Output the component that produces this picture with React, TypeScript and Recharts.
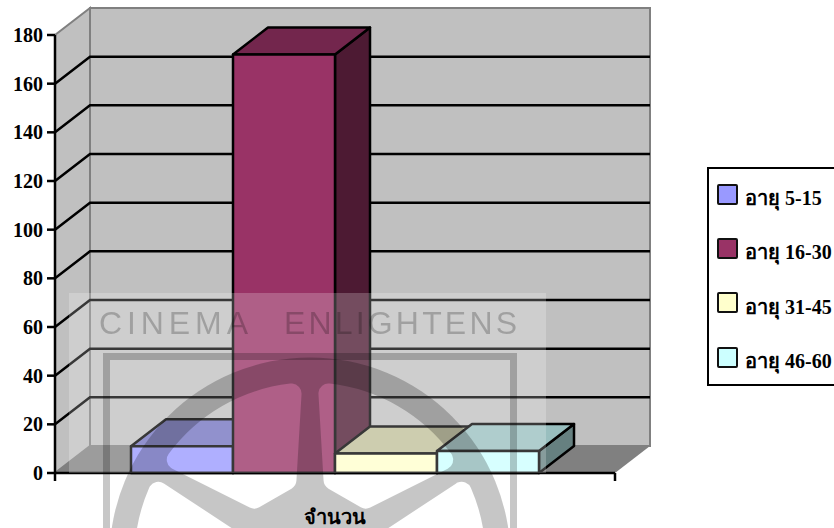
import React from 'react';
import { BarChart, Bar, XAxis, YAxis, CartesianGrid, Legend, usePlotArea } from 'recharts';

const categories = ['จำนวน'];
const seriesNames = ['อายุ 5-15', 'อายุ 16-30', 'อายุ 31-45', 'อายุ 46-60'];
const seriesValues = [[11], [172], [8], [9]];
const seriesColors = ['#9999FF', '#993366', '#FFFFCC', '#CCFFFF'];
const seriesTops = ['#7373BF', '#73264D', '#BFBF99', '#99BFBF'];
const seriesSides = ['#4D4D80', '#4D1A33', '#808066', '#668080'];
const yTicks = [0, 20, 40, 60, 80, 100, 120, 140, 160, 180];
const gridValues = [20, 40, 60, 80, 100, 120, 140, 160];

const data = categories.map((name, i) => {
  const row: Record<string, string | number> = { name };
  seriesNames.forEach((s, j) => {
    row[s] = seriesValues[j][i];
  });
  return row;
});

const FONT = '"Liberation Serif", "Times New Roman", serif';
const DX = 35;
const DY = 27;
const LINE = 2.5;

// back wall, side wall and floor of the 3D box
const Walls = () => {
  const plot = usePlotArea();
  if (!plot) return null;
  const { x, y, width, height } = plot;
  const b = y + height;
  const r = x + width;
  return (
    <g>
      <rect x={x + DX} y={y - DY} width={width} height={height} fill="#C0C0C0" stroke="#808080" strokeWidth={2} />
      <polygon
        points={`${x},${b} ${x},${y} ${x + DX},${y - DY} ${x + DX},${b - DY}`}
        fill="#C0C0C0"
        stroke="#808080"
        strokeWidth={2}
      />
      <polygon points={`${x},${b} ${r},${b} ${r + DX},${b - DY} ${x + DX},${b - DY}`} fill="#808080" />
      <line x1={x} y1={b} x2={x} y2={b + 8} stroke="#000" strokeWidth={LINE} />
      <line x1={r} y1={b} x2={r} y2={b + 8} stroke="#000" strokeWidth={LINE} />
    </g>
  );
};

const Bar3D = (props: any) => {
  const { x, y, width, height, top, side, fill } = props;
  const r = x + width;
  const b = y + height;
  return (
    <g stroke="#000" strokeWidth={LINE} strokeLinejoin="round">
      <polygon points={`${r},${y} ${r + DX},${y - DY} ${r + DX},${b - DY} ${r},${b}`} fill={side} />
      <polygon points={`${x},${y} ${x + DX},${y - DY} ${r + DX},${y - DY} ${r},${y}`} fill={top} />
      <rect x={x} y={y} width={width} height={height} fill={fill} />
    </g>
  );
};

const GridLine = (props: any) => {
  const { x1, x2, y1 } = props;
  return (
    <polyline
      points={`${x1},${y1} ${x1 + DX},${y1 - DY} ${x2 + DX},${y1 - DY}`}
      fill="none"
      stroke="#000"
      strokeWidth={LINE}
    />
  );
};

const LegendBox = ({ payload }: any) => (
  <div style={{ width: 135, height: 215, border: '2px solid #000', position: 'relative', fontFamily: FONT }}>
    {(payload || []).map((p: any, i: number) => (
      <div key={p.value} style={{ position: 'absolute', left: 8, top: 14 + i * 54.4, display: 'flex', alignItems: 'center' }}>
        <div style={{ width: 17, height: 17, border: '2.5px solid #111', borderRadius: 2, background: p.color }} />
        <span style={{ marginLeft: 7, position: 'relative', top: 4, fontSize: 20, fontWeight: 'bold', lineHeight: '22px', whiteSpace: 'nowrap', color: '#000' }}>
          {p.value}
        </span>
      </div>
    ))}
  </div>
);

// the faint film reel logo stamped over the picture
const Watermark = () => {
  const cx = 310;
  const cy = 558;
  const polar = (r: number, deg: number) => {
    const t = (deg * Math.PI) / 180;
    return `${cx + r * Math.cos(t)},${cy - r * Math.sin(t)}`;
  };
  const wedges = [30, 90, 150, 210, 270, 330].map((a) => {
    return `M${polar(81.5, a + 16.8)} L${polar(165.5, a + 6.4)} A165.5,165.5 0 0 0 ${polar(165.5, a + 53.6)} L${polar(81.5, a + 43.2)} Z`;
  });
  return (
    <svg width={834} height={528} style={{ position: 'absolute', left: 0, top: 0, pointerEvents: 'none' }}>
      <defs>
        <mask id="reel" maskUnits="userSpaceOnUse" x={0} y={300} width={834} height={228}>
          <circle cx={cx} cy={cy} r={200.5} fill="#fff" />
          {wedges.map((d) => (
            <path key={d} d={d} fill="#000" stroke="#000" strokeWidth={20} strokeLinejoin="round" />
          ))}
        </mask>
      </defs>
      <rect x={69} y={293} width={477} height={180} fill="#fff" opacity={0.22} />
      <g opacity={0.22}>
        <rect x={106.5} y={356.5} width={407} height={300} fill="none" stroke="#000" strokeWidth={7} />
      </g>
      <g opacity={0.22}>
        <rect x={0} y={300} width={834} height={228} fill="#000" mask="url(#reel)" />
      </g>
      <g opacity={0.22} fontFamily='"Liberation Sans", Arial, sans-serif' fontSize={32} fill="#000">
        <text x={99} y={334} textLength={149} lengthAdjust="spacing">CINEMA</text>
        <text x={284} y={334} textLength={233} lengthAdjust="spacing">ENLIGHTENS</text>
      </g>
    </svg>
  );
};

const App = () => {
  return (
    <div style={{ position: 'absolute', left: 0, top: 0, width: 834, height: 528, overflow: 'hidden', background: '#fff' }}>
      <BarChart
        width={834}
        height={528}
        data={data}
        margin={{ top: 35, right: 219, bottom: 0, left: 0 }}
        barGap={0}
        barCategoryGap={76}
      >
        <Walls />
        <CartesianGrid vertical={false} horizontal={GridLine as any} horizontalValues={gridValues} zIndex={1} />
        <XAxis
          dataKey="name"
          height={55}
          axisLine={{ stroke: '#000', strokeWidth: LINE }}
          tickLine={false}
          tickMargin={31}
          tick={{ fontFamily: FONT, fontSize: 20, fontWeight: 'bold', fill: '#000' }}
        />
        <YAxis
          width={55}
          domain={[0, 180]}
          ticks={yTicks}
          interval={0}
          tickSize={8}
          tickMargin={4}
          axisLine={{ stroke: '#000', strokeWidth: LINE }}
          tickLine={{ stroke: '#000', strokeWidth: LINE }}
          tick={{ fontFamily: FONT, fontSize: 20, fontWeight: 'bold', fill: '#000' }}
        />
        {seriesNames.map((s, i) => (
          <Bar
            key={s}
            dataKey={s}
            fill={seriesColors[i]}
            isAnimationActive={false}
            shape={(p: any) => <Bar3D {...p} top={seriesTops[i]} side={seriesSides[i]} />}
          />
        ))}
        <Legend
          layout="vertical"
          align="center"
          verticalAlign="middle"
          itemSorter={null}
          wrapperStyle={{ left: 707, top: 167, width: 139, height: 219 }}
          content={<LegendBox />}
        />
      </BarChart>
      <Watermark />
    </div>
  );
};

export default App;
